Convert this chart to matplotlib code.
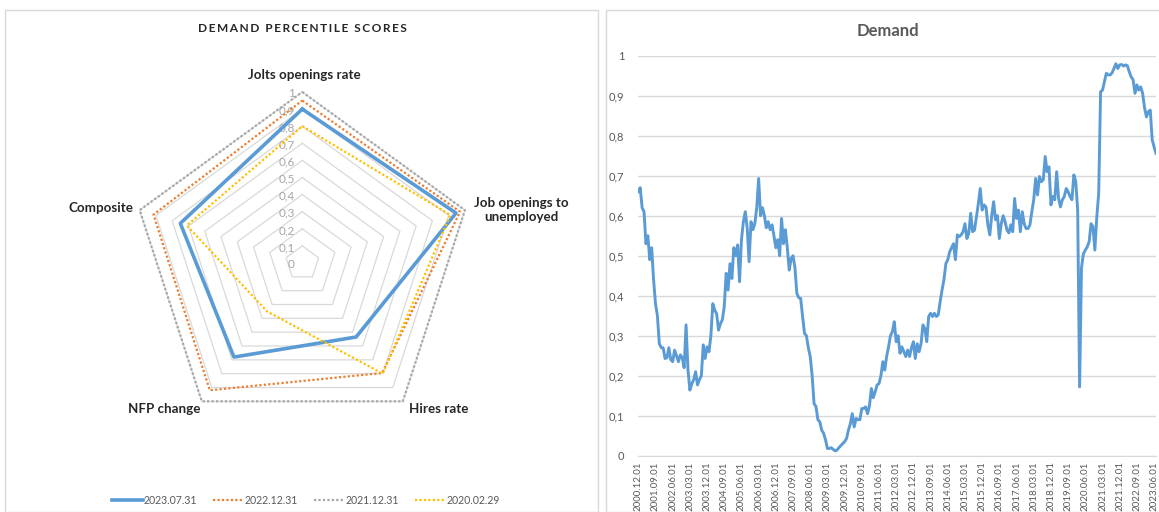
import numpy as np
import pandas as pd
import matplotlib
matplotlib.use("Agg")
import matplotlib.pyplot as plt
from matplotlib.patches import Rectangle
from matplotlib.ticker import FuncFormatter

plt.rcParams['font.family'] = ['Lato', 'DejaVu Sans']

#########################
#####   DATA        #####
#########################
### Radar: percentile scores per indicator
categories = ['Jolts openings rate', 'Job openings to\nunemployed', 'Hires rate',
              'NFP change', 'Composite']
score_2023_07 = [0.90, 0.945, 0.535, 0.68, 0.75]
score_2022_12 = [0.95, 0.97, 0.795, 0.92, 0.915]
score_2021_12 = [1.0, 1.0, 1.0, 1.0, 1.0]
score_2020_02 = [0.80, 0.91, 0.80, 0.35, 0.71]
series_names = ['2023.07.31', '2022.12.31', '2021.12.31', '2020.02.29']

### Demand composite, monthly from 2000.12
demand = [
    0.66,
    0.67, 0.62, 0.61, 0.53, 0.55, 0.49, 0.52, 0.44, 0.38, 0.35, 0.28, 0.27,            # 2001
    0.27, 0.243, 0.245, 0.27, 0.24, 0.235, 0.264, 0.25, 0.235, 0.252, 0.245, 0.22,    # 2002
    0.327, 0.215, 0.164, 0.18, 0.19, 0.21, 0.177, 0.19, 0.2, 0.277, 0.243, 0.272,     # 2003
    0.26, 0.30, 0.38, 0.364, 0.355, 0.314, 0.33, 0.34, 0.373, 0.456, 0.414, 0.48,     # 2004
    0.443, 0.52, 0.5, 0.527, 0.435, 0.54, 0.585, 0.61, 0.57, 0.485, 0.585, 0.565,     # 2005
    0.58, 0.62, 0.693, 0.6, 0.62, 0.6, 0.57, 0.585, 0.565, 0.577, 0.55, 0.52,         # 2006
    0.54, 0.5, 0.593, 0.53, 0.565, 0.52, 0.464, 0.493, 0.5, 0.47, 0.406, 0.395,       # 2007
    0.393, 0.348, 0.306, 0.3, 0.27, 0.248, 0.2, 0.13, 0.123, 0.09, 0.085, 0.064,      # 2008
    0.056, 0.04, 0.018, 0.018, 0.02, 0.016, 0.012, 0.014, 0.02, 0.025, 0.03, 0.035,   # 2009
    0.043, 0.064, 0.08, 0.105, 0.072, 0.093, 0.09, 0.09, 0.118, 0.118, 0.122, 0.105,  # 2010
    0.125, 0.168, 0.145, 0.16, 0.177, 0.18, 0.2, 0.235, 0.214, 0.248, 0.272, 0.3,     # 2011
    0.31, 0.335, 0.285, 0.3, 0.256, 0.272, 0.26, 0.248, 0.264, 0.248, 0.27, 0.285,    # 2012
    0.243, 0.28, 0.26, 0.28, 0.327, 0.318, 0.285, 0.348, 0.356, 0.348, 0.356, 0.348,  # 2013
    0.352, 0.385, 0.414, 0.44, 0.48, 0.49, 0.51, 0.52, 0.53, 0.49, 0.552, 0.548,      # 2014
    0.552, 0.56, 0.58, 0.543, 0.556, 0.606, 0.56, 0.564, 0.597, 0.63, 0.668, 0.614,   # 2015
    0.627, 0.622, 0.577, 0.552, 0.6, 0.635, 0.59, 0.6, 0.543, 0.58, 0.6, 0.585,       # 2016
    0.564, 0.557, 0.577, 0.56, 0.643, 0.593, 0.614, 0.56, 0.61, 0.58, 0.568, 0.568,   # 2017
    0.577, 0.61, 0.64, 0.693, 0.652, 0.698, 0.685, 0.69, 0.748, 0.71, 0.722, 0.627,   # 2018
    0.648, 0.64, 0.71, 0.643, 0.622, 0.64, 0.648, 0.668, 0.66, 0.648, 0.64, 0.702,    # 2019
    0.685, 0.614, 0.172, 0.47, 0.505, 0.514, 0.522, 0.535, 0.58, 0.573, 0.514, 0.597, # 2020
    0.656, 0.91, 0.914, 0.935, 0.956, 0.952, 0.952, 0.957, 0.968, 0.98, 0.968, 0.977, # 2021
    0.978, 0.974, 0.977, 0.975, 0.96, 0.947, 0.94, 0.906, 0.927, 0.914, 0.922, 0.906, # 2022
    0.87, 0.847, 0.86, 0.864, 0.79, 0.772, 0.756,                                     # 2023
]
dates = pd.date_range('2000-12-01', periods=len(demand), freq='MS')
date_labels = list(dates.strftime('%Y.%m.%d'))

BLUE = '#5b9bd5'
ORANGE = '#ed7d31'
GREY = '#a5a5a5'
GOLD = '#ffc000'
TXT = '#595959'
GRID = '#d9d9d9'

def comma(v, pos=None):
    return ('%g' % round(v, 2)).replace('.', ',')

fig = plt.figure(figsize=(11.59, 5.12), dpi=100)
W, H = 1159.0, 512.0

### Panel frames
fig.add_artist(Rectangle((5 / W, 0), 593 / W, 1 - 10 / H, transform=fig.transFigure,
                         fill=False, edgecolor='#d9d9d9', linewidth=1))
fig.add_artist(Rectangle((606 / W, 0), 560 / W, 1 - 10 / H, transform=fig.transFigure,
                         fill=False, edgecolor='#d9d9d9', linewidth=1))

#####################
#####   RADAR   #####
#####################
cx, cy, R = 302.3, 263.0, 171.0   # centre and unit radius in pixels
half = 1.3
axr = fig.add_axes([(cx - half * R) / W, (H - cy - half * R) / H, 2 * half * R / W, 2 * half * R / H])
axr.set_xlim(-half, half)
axr.set_ylim(-half, half)
axr.axis('off')

n = len(categories)
ang = np.deg2rad(90 - 72 * np.arange(n))
ux, uy = np.cos(ang), np.sin(ang)

# pentagon grid
for r in np.arange(1, 11) / 10:
    axr.plot(np.append(r * ux, r * ux[0]), np.append(r * uy, r * uy[0]),
             color=GRID, linewidth=0.9, zorder=1)
for r in np.arange(0, 11) / 10:
    axr.text(-0.045, r - 0.01, comma(r), ha='right', va='center', fontsize=8.5, color='#a6a6a6')

styles = [
    (score_2023_07, BLUE, '-', 2.6),
    (score_2022_12, ORANGE, (0, (1, 1)), 1.6),
    (score_2021_12, GREY, (0, (1, 1)), 1.6),
    (score_2020_02, GOLD, (0, (1, 1)), 1.6),
]
handles = []
for (vals, col, ls, lw), name in zip(styles, series_names):
    v = np.array(vals)
    h, = axr.plot(np.append(v * ux, v[0] * ux[0]), np.append(v * uy, v[0] * uy[0]),
                  color=col, linestyle=ls, linewidth=lw, label=name, zorder=3)
    handles.append(h)

# category labels
label_pos = [(0.01, 1.10), (1.28, 0.31), (0.80, -0.855), (-0.81, -0.855), (-1.18, 0.32)]
for txt, (lx, ly) in zip(categories, label_pos):
    axr.text(lx, ly, txt, ha='center', va='center', fontsize=9.6, fontweight='bold',
             color='#262626', linespacing=1.2, clip_on=False)

title = '\u2009'.join('DEMAND') + '\u2009\u2009 ' + '\u2009'.join('PERCENTILE') \
    + '\u2009\u2009 ' + '\u2009'.join('SCORES')
fig.text(302 / W, 1 - 28 / H, title, ha='center', va='center', fontsize=8.6,
         fontweight='bold', color='#262626')

fig.legend(handles=handles, loc='center', bbox_to_anchor=(306 / W, 1 - 500 / H), ncol=4,
           frameon=False, fontsize=7.6, labelcolor=TXT, handlelength=2.9, handletextpad=0.1,
           columnspacing=1.5)

########################
#####   DEMAND     #####
########################
axd = fig.add_axes([638.3 / W, 1 - 455.7 / H, (1156 - 638.3) / W, 400 / H])
x = np.arange(len(demand))
axd.plot(x, demand, color=BLUE, linewidth=2.1, solid_joinstyle='round')
axd.set_xlim(0, len(demand) - 1)
axd.set_ylim(0, 1)
axd.set_yticks(np.arange(0, 11) / 10)
axd.yaxis.set_major_formatter(FuncFormatter(comma))
axd.grid(axis='y', color=GRID, linewidth=1)
axd.set_axisbelow(True)
tick_idx = list(range(0, len(demand), 9))
axd.set_xticks(tick_idx)
axd.set_xticklabels([date_labels[i] for i in tick_idx], rotation=90, fontsize=7, color=TXT)
axd.tick_params(axis='y', length=0, labelsize=8, labelcolor=TXT, pad=10)
axd.tick_params(axis='x', length=0, pad=4)
for s in ['top', 'right', 'left']:
    axd.spines[s].set_visible(False)
axd.spines['bottom'].set_color(GRID)
fig.text(888 / W, 1 - 31 / H, 'Demand', ha='center', va='center', fontsize=12,
         fontweight='bold', color=TXT)

plt.savefig('out.png', dpi=100)
